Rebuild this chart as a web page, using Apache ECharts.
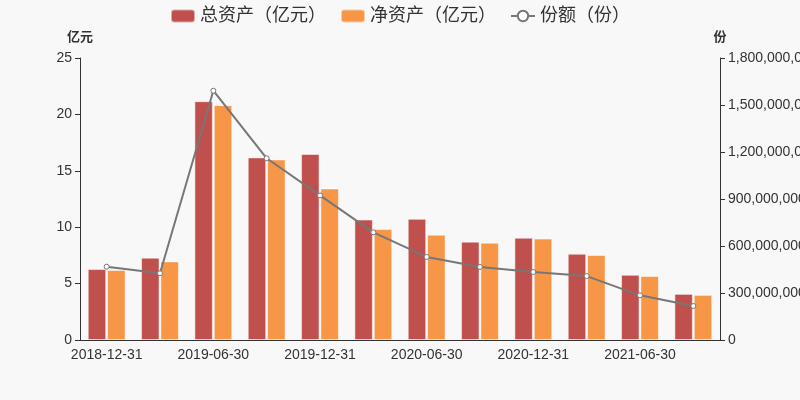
<!DOCTYPE html>
<html><head><meta charset="utf-8">
<script src="https://cdn.jsdelivr.net/npm/echarts@6/dist/echarts.min.js"></script>
<style>html,body{margin:0;padding:0;background:#f8f8f8;}#c{width:800px;height:400px;}</style>
</head><body><div id="c"></div>
<script>
const categories = ['2018-12-31','2019-03-31','2019-06-30','2019-09-30','2019-12-31','2020-03-31','2020-06-30','2020-09-30','2020-12-31','2021-03-31','2021-06-30','2021-09-30'];
const totalAssets = [6.29, 7.30, 21.17, 16.19, 16.49, 10.68, 10.74, 8.72, 9.07, 7.65, 5.78, 4.09];
const netAssets = [6.20, 6.97, 20.82, 16.01, 13.43, 9.85, 9.34, 8.63, 8.99, 7.53, 5.67, 4.00];
const shares = [468000000, 426000000, 1591000000, 1160000000, 923000000, 687000000, 530000000, 466000000, 434000000, 408000000, 285000000, 217000000];
const leftTicks = {min: 0, max: 25, interval: 5};
const rightTicks = {min: 0, max: 1800000000, interval: 300000000};

const chart = echarts.init(document.getElementById('c'));
const font = 'Arial, "Liberation Sans", "Noto Sans CJK SC", sans-serif';
chart.setOption({
  backgroundColor: '#f8f8f8',
  textStyle: {fontFamily: font},
  legend: {
    top: 2, left: 'center', itemWidth: 24, itemHeight: 13, itemGap: 14,
    textStyle: {fontSize: 18, color: '#333', fontFamily: font},
    data: ['总资产（亿元）', '净资产（亿元）', '份额（份）']
  },
  grid: {left: 80, right: 80, top: 58, bottom: 60, containLabel: false, outerBoundsMode: 'none'},
  xAxis: {
    type: 'category', data: categories,
    axisLine: {lineStyle: {color: '#333'}},
    axisTick: {interval: 1, lineStyle: {color: '#333'}},
    axisLabel: {interval: 1, fontSize: 14, color: '#333', margin: 8}
  },
  yAxis: [{
    type: 'value', name: '亿元', nameGap: 14,
    nameTextStyle: {fontWeight: 'bold', fontSize: 13, color: '#333', align: 'center'},
    min: leftTicks.min, max: leftTicks.max, interval: leftTicks.interval,
    axisLine: {show: true, lineStyle: {color: '#333'}},
    axisTick: {show: true}, splitLine: {show: false},
    axisLabel: {fontSize: 14, color: '#333'}
  }, {
    type: 'value', name: '份', nameGap: 14,
    nameTextStyle: {fontWeight: 'bold', fontSize: 13, color: '#333', align: 'center'},
    min: rightTicks.min, max: rightTicks.max, interval: rightTicks.interval,
    axisLine: {show: true, lineStyle: {color: '#333'}},
    axisTick: {show: true}, splitLine: {show: false},
    axisLabel: {fontSize: 14, color: '#333', formatter: v => v.toLocaleString('en-US')}
  }],
  series: [{
    name: '总资产（亿元）', type: 'bar', data: totalAssets,
    barGap: '5%', barCategoryGap: '29%',
    itemStyle: {color: '#c0504d', borderColor: 'rgba(255,255,255,0.5)', borderWidth: 1}
  }, {
    name: '净资产（亿元）', type: 'bar', data: netAssets,
    itemStyle: {color: '#f79646', borderColor: 'rgba(255,255,255,0.5)', borderWidth: 1}
  }, {
    name: '份额（份）', type: 'line', yAxisIndex: 1, data: shares,
    symbol: 'circle', symbolSize: 5, showAllSymbol: true,
    lineStyle: {color: '#777', width: 2},
    itemStyle: {color: '#fff', borderColor: '#777', borderWidth: 1}
  }]
});
</script></body></html>
